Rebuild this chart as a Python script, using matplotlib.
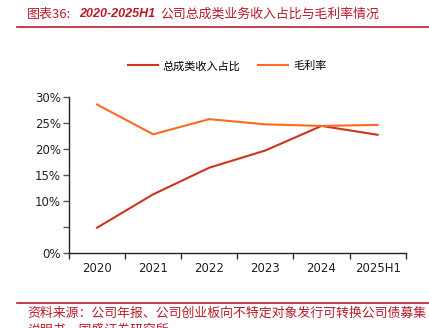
import matplotlib
matplotlib.use('Agg')
import matplotlib.pyplot as plt
from matplotlib.lines import Line2D

plt.rcParams['font.family'] = ['DejaVu Sans', 'Noto Sans CJK SC']

# data
years = ['2020', '2021', '2022', '2023', '2024', '2025H1']
share = [4.9, 11.3, 16.4, 19.7, 24.4, 22.7]     # 总成类收入占比 (%)
margin = [28.5, 22.8, 25.7, 24.7, 24.4, 24.6]   # 毛利率 (%)
yticks = [0, 5, 10, 15, 20, 25, 30]
ylabels = ['0%', '', '10%', '15%', '20%', '25%', '30%']

red = '#C9371C'
orange = '#FF6A21'
title_c = '#B71C2C'
cjk = ['Noto Sans CJK SC', 'DejaVu Sans']

fig = plt.figure(figsize=(4.29, 3.28), dpi=100)
ax = fig.add_axes([0.1608, 0.2277, 0.7849, 0.4775])

x = list(range(len(years)))
ax.plot(x, share, color=red, lw=1.5, label='总成类收入占比')
ax.plot(x, margin, color=orange, lw=1.5, label='毛利率')

ax.set_xlim(-0.5, len(years) - 0.5)
ax.set_ylim(0, 30)
ax.set_yticks(yticks)
ax.set_yticklabels(ylabels, fontsize=8.5, color='#222222')
ax.set_xticks(x)
ax.set_xticklabels(years, fontsize=8.5, color='#222222')
ax.tick_params(axis='x', which='major', length=0, pad=6)
ax.set_xticks([i - 0.5 for i in range(len(years) + 1)], minor=True)
ax.tick_params(axis='x', which='minor', length=4, width=1, color='#333333')
ax.tick_params(axis='y', length=4, width=1, color='#555555', pad=2)
for s in ['top', 'right']:
    ax.spines[s].set_visible(False)
for s in ['left', 'bottom']:
    ax.spines[s].set_color('#222222')
    ax.spines[s].set_linewidth(1)

leg = ax.legend(loc='lower center', bbox_to_anchor=(0.47, 1.098), ncol=2, frameon=False,
                prop={'family': cjk, 'size': 8}, handlelength=2.7, columnspacing=1.6,
                handletextpad=0.45)

# title and source
ty = 1 - 14 / 328
fig.text(27 / 429, ty, '图表36:', color=title_c, fontsize=9.4,
         family=cjk, va='center', ha='left')
fig.text(79 / 429, ty, '2020-2025H1', color=title_c, fontsize=9, style='italic',
         weight='bold', family='Liberation Sans', va='center', ha='left')
fig.text(160 / 429, ty, '公司总成类业务收入占比与毛利率情况', color=title_c, fontsize=9.3,
         family=cjk, va='center', ha='left')
fig.add_artist(Line2D([17 / 429, 1], [1 - 27 / 328] * 2, color=title_c, lw=1.2))
fig.add_artist(Line2D([17 / 429, 1], [1 - 303 / 328] * 2, color=title_c, lw=1.2))
fig.text(27 / 429, 1 - 313 / 328, '资料来源：公司年报、公司创业板向不特定对象发行可转换公司债募集',
         color=title_c, fontsize=9.3, family=cjk, va='center', ha='left')
fig.text(27 / 429, 1 - 330 / 328, '说明书，国盛证券研究所',
         color=title_c, fontsize=9.3, family=cjk, va='center', ha='left')

fig.savefig('out.png', dpi=100)
